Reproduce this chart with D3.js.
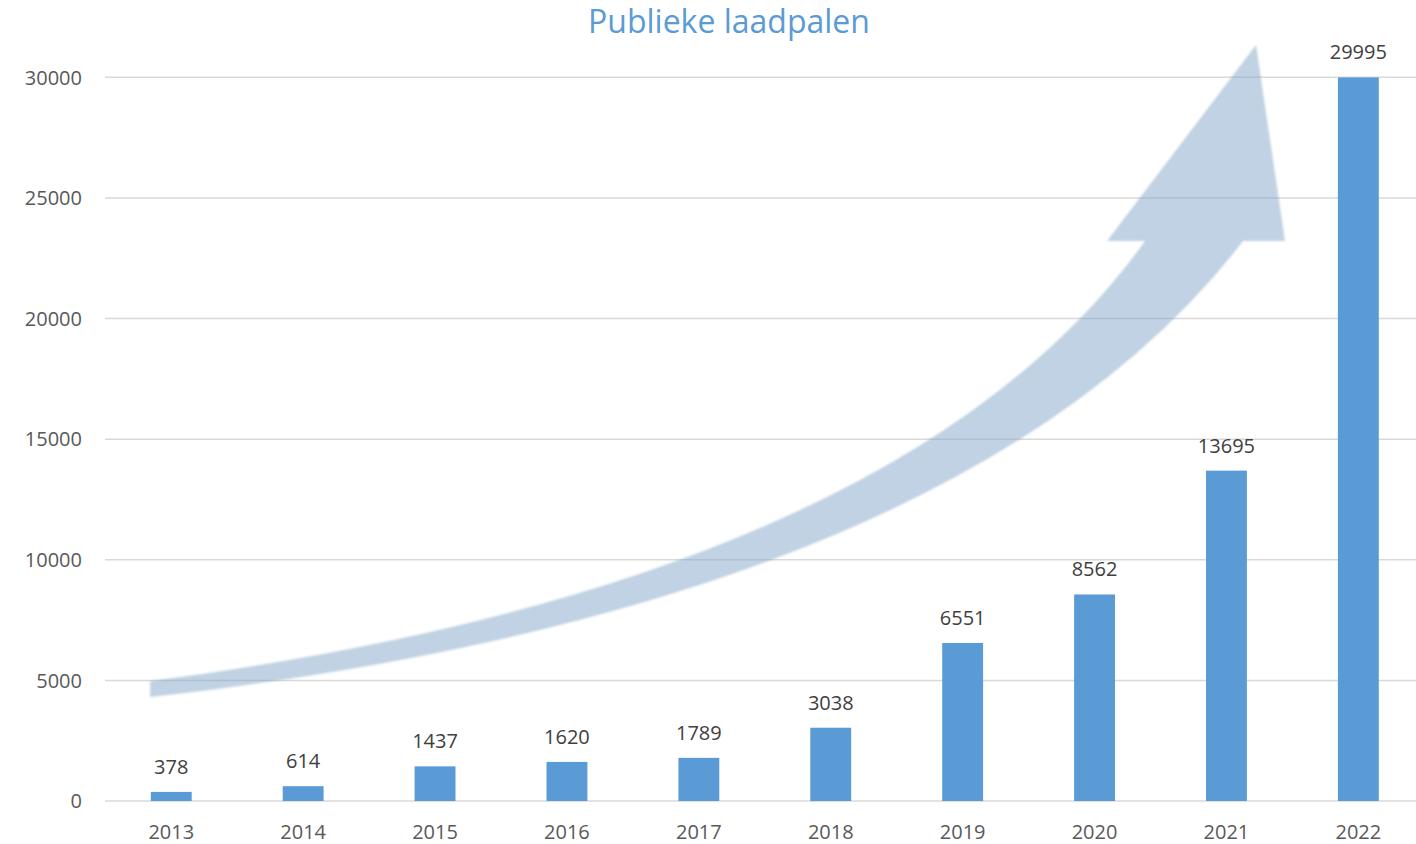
<!DOCTYPE html>
<html>
<head>
<meta charset="utf-8">
<script src="https://cdn.jsdelivr.net/npm/d3@7"></script>
<style>
  body { margin: 0; background: #fff; }
  svg { display: block; font-family: "Open Sans", "Noto Sans", sans-serif; }
</style>
</head>
<body>
<div id="chart"></div>
<script>
const years = ["2013", "2014", "2015", "2016", "2017", "2018", "2019", "2020", "2021", "2022"];
const laadpalen = [378, 614, 1437, 1620, 1789, 3038, 6551, 8562, 13695, 29995];
const yTicks = [0, 5000, 10000, 15000, 20000, 25000, 30000];

// decorative trend arrow, in (year index, value) units: start, control, end
const arrowTop = [[-0.16, 4970], [5.525, 9040], [7.383, 23210]];
const arrowBottom = [[-0.16, 4310], [5.995, 8120], [8.126, 23210]];
const arrowHead = [[7.095, 23210], [8.224, 31340], [8.444, 23210]];

const width = 1416;
const height = 844;

const svg = d3.select('#chart')
  .append('svg')
  .attr('width', width)
  .attr('height', height);

const x = d3.scaleBand()
  .domain(years)
  .range([105.3, 1424.3])
  .paddingInner(0.69)
  .paddingOuter(0.345);

const y = d3.scaleLinear()
  .domain([0, 30000])
  .range([801, 77.3]);

// linear position by year index (for the arrow)
const xi = d3.scaleLinear()
  .domain([0, years.length - 1])
  .range([x(years[0]) + x.bandwidth() / 2, x(years[years.length - 1]) + x.bandwidth() / 2]);

const pt = (d) => [xi(d[0]), y(d[1])];

// title
svg.append('text')
  .attr('x', 729)
  .attr('y', 33)
  .attr('text-anchor', 'middle')
  .attr('fill', '#5B9BD5')
  .style('font-size', '32px')
  .text('Publieke laadpalen');

// gridlines
svg.append('g')
  .selectAll('line')
  .data(yTicks)
  .enter()
  .append('line')
  .attr('x1', 105)
  .attr('x2', width)
  .attr('y1', (d) => y(d))
  .attr('y2', (d) => y(d))
  .attr('stroke', '#D9D9D9')
  .attr('stroke-width', 1.5);

// y labels
svg.append('g')
  .selectAll('text')
  .data(yTicks)
  .enter()
  .append('text')
  .attr('x', 82)
  .attr('y', (d) => y(d))
  .attr('dy', '0.36em')
  .attr('text-anchor', 'end')
  .attr('fill', '#595959')
  .style('font-size', '20px')
  .text((d) => d);

// arrow
const defs = svg.append('defs');
defs.append('filter')
  .attr('id', 'soft')
  .append('feGaussianBlur')
  .attr('stdDeviation', 0.9);

const t = arrowTop.map(pt);
const b = arrowBottom.map(pt);
const h = arrowHead.map(pt);

const p = d3.path();
p.moveTo(t[0][0], t[0][1]);
p.quadraticCurveTo(t[1][0], t[1][1], t[2][0], t[2][1]);
p.lineTo(h[0][0], h[0][1]);
p.lineTo(h[1][0], h[1][1]);
p.lineTo(h[2][0], h[2][1]);
p.lineTo(b[2][0], b[2][1]);
p.quadraticCurveTo(b[1][0], b[1][1], b[0][0], b[0][1]);
p.closePath();

svg.append('path')
  .attr('d', p.toString())
  .attr('fill', 'rgb(130,165,200)')
  .attr('fill-opacity', 0.5)
  .attr('filter', 'url(#soft)');

// bars
svg.append('g')
  .selectAll('rect')
  .data(laadpalen)
  .enter()
  .append('rect')
  .attr('x', (d, i) => x(years[i]))
  .attr('y', (d) => y(d))
  .attr('width', x.bandwidth())
  .attr('height', (d) => y(0) - y(d))
  .attr('fill', '#5B9BD5');

// value labels
svg.append('g')
  .selectAll('text')
  .data(laadpalen)
  .enter()
  .append('text')
  .attr('x', (d, i) => x(years[i]) + x.bandwidth() / 2)
  .attr('y', (d) => y(d) - 18)
  .attr('text-anchor', 'middle')
  .attr('fill', '#404040')
  .style('font-size', '20px')
  .text((d) => d);

// x labels
svg.append('g')
  .selectAll('text')
  .data(years)
  .enter()
  .append('text')
  .attr('x', (d) => x(d) + x.bandwidth() / 2)
  .attr('y', 839)
  .attr('text-anchor', 'middle')
  .attr('fill', '#595959')
  .style('font-size', '20px')
  .text((d) => d);
</script>
</body>
</html>
